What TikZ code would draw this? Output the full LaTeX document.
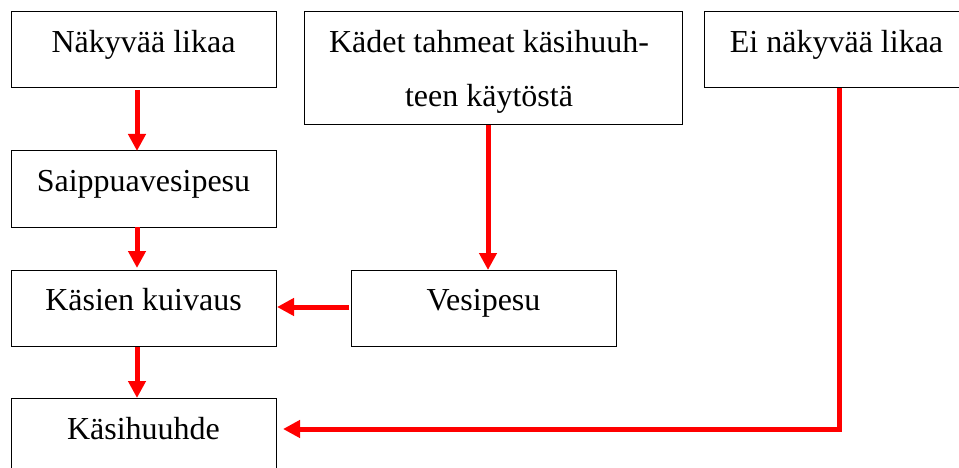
\documentclass[tikz,border=0pt]{standalone}
\usepackage{fontspec}
\setmainfont{Liberation Serif}
\usetikzlibrary{arrows.meta}
\begin{document}
\begin{tikzpicture}[x=1pt,y=-1pt,
  box/.style={draw=black, line width=1pt, rectangle, inner sep=0pt, outer sep=0pt},
  lbl/.style={font=\fontsize{32}{38}\selectfont, anchor=base, inner sep=0pt},
  arr/.style={draw=red, line width=5pt, -{Triangle[length=17pt,width=17pt]}}]
\useasboundingbox (0,0) rectangle (959,468);
% boxes
\node[box, minimum width=265pt, minimum height=76pt]  (b1) at (143.5,50) {};
\node[box, minimum width=378pt, minimum height=113pt] (b2) at (493,68.5) {};
\node[box, minimum width=265pt, minimum height=76pt]  (b3) at (836.5,50) {};
\node[box, minimum width=265pt, minimum height=76pt]  (b4) at (143.5,189) {};
\node[box, minimum width=265pt, minimum height=76pt]  (b5) at (143.5,308) {};
\node[box, minimum width=265pt, minimum height=76pt]  (b6) at (483.5,308) {};
\node[box, minimum width=265pt, minimum height=76pt]  (b7) at (143.5,436) {};
% labels
\node[lbl] (t1)  at (143.5,53)  {Näkyvää likaa};
\node[lbl] (t2a) at (489,53)    {Kädet tahmeat käsihuuh-};
\node[lbl] (t2b) at (489,107)   {teen käytöstä};
\node[lbl] (t3)  at (836.5,53)  {Ei näkyvää likaa};
\node[lbl] (t4)  at (143.5,191) {Saippuavesipesu};
\node[lbl] (t5)  at (143.5,310) {Käsien kuivaus};
\node[lbl] (t6)  at (483.5,310) {Vesipesu};
\node[lbl] (t7)  at (143.5,439) {Käsihuuhde};
% arrows
\draw[arr] ([xshift=-6.5pt,yshift=-2pt]b1.south) -- ([xshift=-6.5pt]b4.north);
\draw[arr] ([xshift=-6.5pt]b4.south) -- ([xshift=-6.5pt,yshift=2pt]b5.north);
\draw[arr] ([xshift=-6.5pt,yshift=-1pt]b5.south) -- ([xshift=-6.5pt]b7.north);
\draw[arr] ([xshift=-2pt,yshift=1pt]b6.west) -- ([xshift=1pt,yshift=1pt]b5.east);
\draw[arr] ([xshift=-5pt]b2.south) -- ([xshift=-5pt]b2.south |- b6.north);
\draw[arr] ([xshift=2.5pt]b3.south) |- ([xshift=7pt,yshift=7pt]b7.east);
\end{tikzpicture}
\end{document}
